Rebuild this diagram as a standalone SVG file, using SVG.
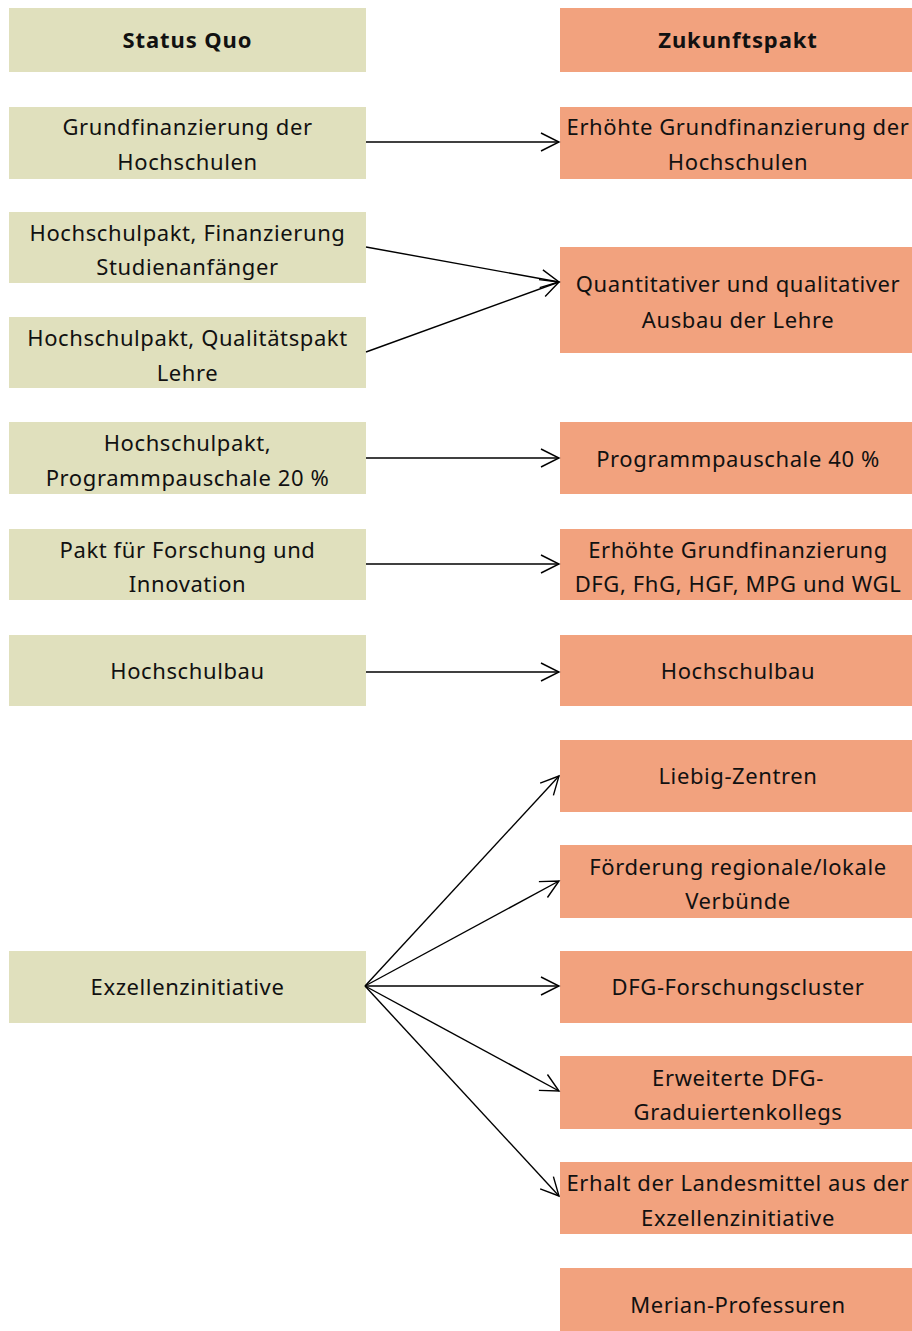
<svg xmlns="http://www.w3.org/2000/svg" width="912" height="1331" viewBox="0 0 912 1331">
<style>
.l{fill:#E0E0BD}
.r{fill:#F2A27E}
text{font-family:"Noto Sans","Liberation Sans",sans-serif;font-size:22px;letter-spacing:0.6px;fill:#111;text-anchor:middle}
.b{font-weight:bold;letter-spacing:0.9px}
.c line{stroke:#000;stroke-width:1.4;fill:none}
</style>
<defs>
<marker id="a" markerUnits="userSpaceOnUse" markerWidth="24" markerHeight="24" viewBox="-22 -12 24 24" refX="0" refY="0" orient="auto" overflow="visible">
<path d="M-18,-9 L0,0 L-18,9" fill="none" stroke="#000" stroke-width="1.4"/>
</marker>
</defs>
<rect width="912" height="1331" fill="#fff"/>
<g id="h1"><rect class="l" x="9" y="8" width="357" height="64"/><text class="b" x="187.5" y="48">Status Quo</text></g>
<g id="h2"><rect class="r" x="560" y="8" width="352" height="64"/><text class="b" x="738" y="48">Zukunftspakt</text></g>
<g id="l1"><rect class="l" x="9" y="107" width="357" height="72"/><text x="187.5" y="135">Grundfinanzierung der</text><text x="187.5" y="170">Hochschulen</text></g>
<g id="l2"><rect class="l" x="9" y="212" width="357" height="71"/><text x="187.5" y="241">Hochschulpakt, Finanzierung</text><text x="187.5" y="275">Studienanfänger</text></g>
<g id="l3"><rect class="l" x="9" y="317" width="357" height="71"/><text x="187.5" y="346">Hochschulpakt, Qualitätspakt</text><text x="187.5" y="381">Lehre</text></g>
<g id="l4"><rect class="l" x="9" y="422" width="357" height="72"/><text x="187.5" y="451">Hochschulpakt,</text><text x="187.5" y="486">Programmpauschale 20 %</text></g>
<g id="l5"><rect class="l" x="9" y="529" width="357" height="71"/><text x="187.5" y="558">Pakt für Forschung und</text><text x="187.5" y="592">Innovation</text></g>
<g id="l6"><rect class="l" x="9" y="635" width="357" height="71"/><text x="187.5" y="679">Hochschulbau</text></g>
<g id="l7"><rect class="l" x="9" y="951" width="357" height="72"/><text x="187.5" y="995">Exzellenzinitiative</text></g>
<g id="r1"><rect class="r" x="560" y="107" width="352" height="72"/><text x="738" y="135">Erhöhte Grundfinanzierung der</text><text x="738" y="170">Hochschulen</text></g>
<g id="r2"><rect class="r" x="560" y="247" width="352" height="106"/><text x="738" y="292">Quantitativer und qualitativer</text><text x="738" y="328">Ausbau der Lehre</text></g>
<g id="r3"><rect class="r" x="560" y="422" width="352" height="72"/><text x="738" y="467">Programmpauschale 40 %</text></g>
<g id="r4"><rect class="r" x="560" y="529" width="352" height="71"/><text x="738" y="558">Erhöhte Grundfinanzierung</text><text x="738" y="592">DFG, FhG, HGF, MPG und WGL</text></g>
<g id="r5"><rect class="r" x="560" y="635" width="352" height="71"/><text x="738" y="679">Hochschulbau</text></g>
<g id="r6"><rect class="r" x="560" y="740" width="352" height="72"/><text x="738" y="784">Liebig-Zentren</text></g>
<g id="r7"><rect class="r" x="560" y="845" width="352" height="73"/><text x="738" y="875">Förderung regionale/lokale</text><text x="738" y="909">Verbünde</text></g>
<g id="r8"><rect class="r" x="560" y="951" width="352" height="72"/><text x="738" y="995">DFG-Forschungscluster</text></g>
<g id="r9"><rect class="r" x="560" y="1056" width="352" height="73"/><text x="738" y="1086">Erweiterte DFG-</text><text x="738" y="1120">Graduiertenkollegs</text></g>
<g id="r10"><rect class="r" x="560" y="1162" width="352" height="72"/><text x="738" y="1191">Erhalt der Landesmittel aus der</text><text x="738" y="1226">Exzellenzinitiative</text></g>
<g id="r11"><rect class="r" x="560" y="1268" width="352" height="63"/><text x="738" y="1313">Merian-Professuren</text></g>
<g id="connectors" class="c">
<line x1="366" y1="142" x2="559" y2="142" marker-end="url(#a)"/>
<line x1="366" y1="247" x2="559" y2="282" marker-end="url(#a)"/>
<line x1="366" y1="352" x2="559" y2="282" marker-end="url(#a)"/>
<line x1="366" y1="458" x2="559" y2="458" marker-end="url(#a)"/>
<line x1="366" y1="564" x2="559" y2="564" marker-end="url(#a)"/>
<line x1="366" y1="672" x2="559" y2="672" marker-end="url(#a)"/>
<line x1="365" y1="986" x2="559" y2="776" marker-end="url(#a)"/>
<line x1="365" y1="986" x2="559" y2="881" marker-end="url(#a)"/>
<line x1="365" y1="986" x2="559" y2="986" marker-end="url(#a)"/>
<line x1="365" y1="986" x2="559" y2="1091" marker-end="url(#a)"/>
<line x1="365" y1="986" x2="559" y2="1196" marker-end="url(#a)"/>
</g>
</svg>
